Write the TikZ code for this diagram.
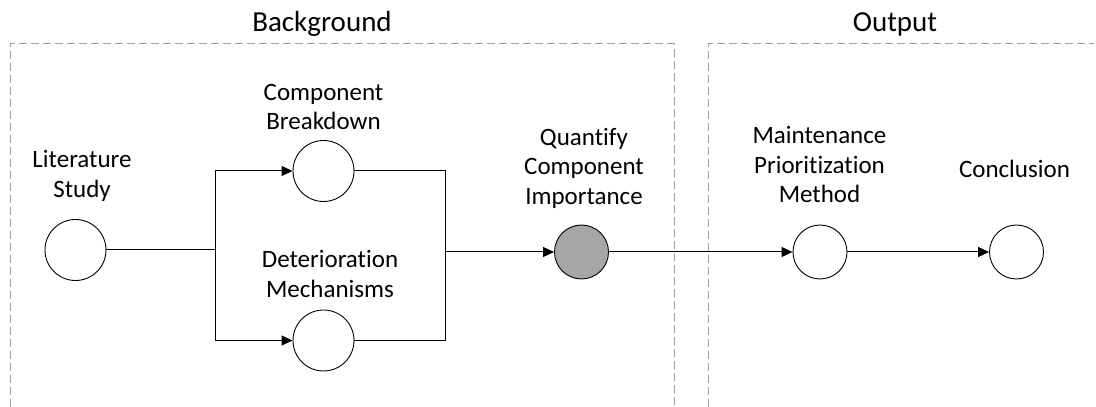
\documentclass[tikz,border=0pt]{standalone}
\usepackage{fontspec}
\setmainfont{Carlito}[Ligatures={NoCommon}]
\usetikzlibrary{arrows.meta}
\definecolor{boxgray}{HTML}{A0A0A0}
\definecolor{fillgray}{HTML}{A6A6A6}
\tikzset{
  stage/.style={circle, draw=black, line width=0.9pt, fill=white, minimum size=#1, inner sep=0pt},
  lbl/.style={anchor=base, inner sep=0pt, font=\fontsize{25}{29.5}\selectfont},
  ttl/.style={anchor=base, inner sep=0pt, font=\fontsize{29}{35}\selectfont},
  region/.style={draw=boxgray, line width=1pt, dash pattern=on 8pt off 4pt},
  link/.style={draw=black, line width=1pt},
  flow/.style={link, -{Triangle[length=11pt,width=10pt]}}
}
\setlength{\tabcolsep}{0pt}
\begin{document}
\begin{tikzpicture}[x=1pt,y=1pt]
\useasboundingbox[fill=white] (0,0) rectangle (1096,407);
% regions
\draw[region] (10,0) -- (10,363) -- (674,363) -- (674,0);
\draw[region] (708,0) -- (708,363) -- (1094,363);
\node[ttl] (tbg) at (322,375) {Background};
\node[ttl] (tout) at (895,375) {Output};
% stages
\node[stage=61pt] (lit) at (75.5,157) {};
\node[stage=61pt] (comp) at (323.5,236) {};
\node[stage=61pt] (det) at (323.5,66.5) {};
\node[stage=54pt, fill=fillgray] (quant) at (581.5,155) {};
\node[stage=54pt] (maint) at (820,155) {};
\node[stage=54pt] (concl) at (1016.5,155) {};
% labels
\node[lbl] (llit) at (82,239) {\begin{tabular}[t]{c}Literature\\Study\end{tabular}};
\node[lbl] (lcomp) at (323.5,306.5) {\begin{tabular}[t]{c}Component\\Breakdown\end{tabular}};
\node[lbl] (ldet) at (330,139) {\begin{tabular}[t]{c}Deterioration\\Mechanisms\end{tabular}};
\node[lbl] (lquant) at (584,261.5) {\begin{tabular}[t]{c}Quantify\\Component\\Importance\end{tabular}};
\node[lbl] (lmaint) at (819.5,263) {\begin{tabular}[t]{c}Maintenance\\Prioritization\\Method\end{tabular}};
\node[lbl] (lconcl) at (1014.5,229) {Conclusion};
% connectors
\coordinate (jmid) at (215,157);
\coordinate (kmid) at (445,155);
\draw[link] (lit.east) -- (jmid);
\draw[flow] (jmid) |- (comp.west);
\draw[flow] (jmid) |- (det.west);
\draw[link] (comp.east) -| (kmid);
\draw[link] (det.east) -| (kmid);
\draw[flow] (kmid) -- (quant.west);
\draw[flow] (quant.east) -- (maint.west);
\draw[flow] (maint.east) -- (concl.west);
\end{tikzpicture}
\end{document}
